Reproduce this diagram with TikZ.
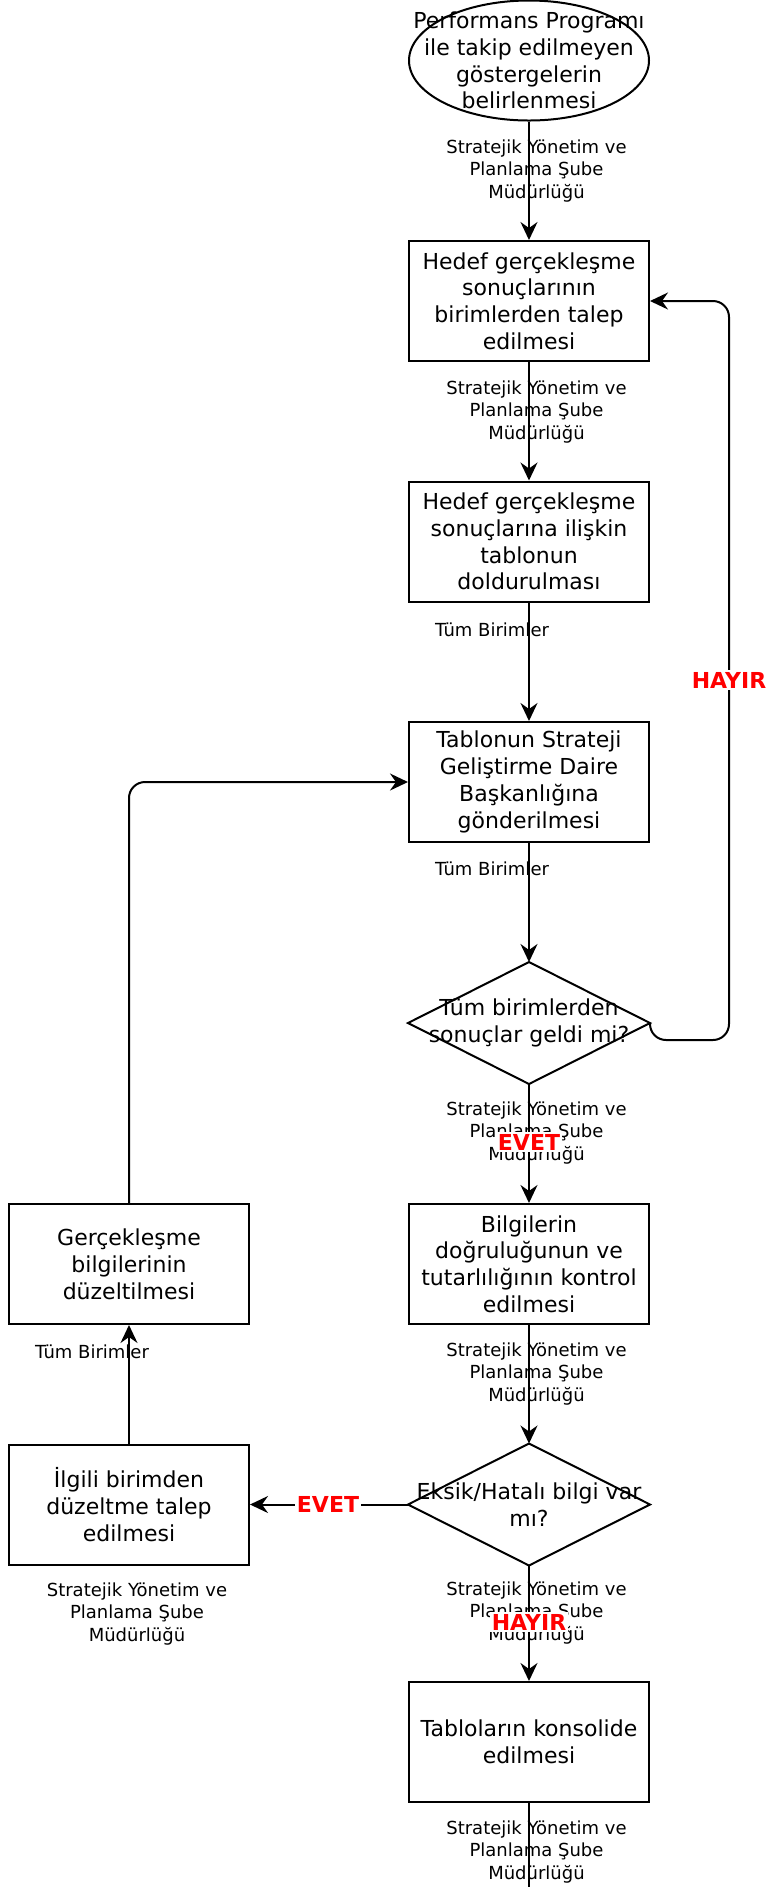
\documentclass[tikz,border=0pt]{standalone}
\usepackage{fontspec}
\setmainfont{DejaVu Sans}
\usetikzlibrary{arrows.meta}
\definecolor{answerred}{RGB}{255,0,0}

\begin{document}
\begin{tikzpicture}[x=0.5pt,y=0.5pt,yscale=-1,xscale=1,
  line width=1pt,
  >={Stealth[length=9pt,width=8.5pt,inset=3pt]},
  stepframe/.style={rectangle,minimum width=120pt,minimum height=60pt,inner sep=0pt,align=center,font=\fontsize{11}{13.4}\selectfont},
  process/.style={stepframe,draw},
  edgelabel/.style={align=center,inner sep=0.75pt,font=\fontsize{9}{11.2}\selectfont},
  answer/.style={fill=white,text=answerred,inner sep=1pt,font=\fontsize{11}{13}\selectfont\bfseries}]
\useasboundingbox (0,0) rectangle (768,1887);

%Shape: Ellipse [id:start]
\node [stepframe] (start) at (529,60.5) {Performans Programı\\ile takip edilmeyen\\göstergelerin\\belirlenmesi};
\draw (start.center) ellipse [x radius=120, y radius=60];
%Shape: Rectangle [id:request]
\node [process] (request) at (529,301) {Hedef gerçekleşme\\sonuçlarının\\birimlerden talep\\edilmesi};
%Shape: Rectangle [id:fill]
\node [process] (fill) at (529,541.5) {Hedef gerçekleşme\\sonuçlarına ilişkin\\tablonun\\doldurulması};
%Shape: Rectangle [id:send]
\node [process] (send) at (529,782) {Tablonun Strateji\\Geliştirme Daire\\Başkanlığına\\gönderilmesi};
%Shape: Diamond [id:check]
\node [stepframe] (check) at (529,1023) {Tüm birimlerden\\sonuçlar geldi mi?};
\draw (check.north) -- (check.east) -- (check.south) -- (check.west) -- cycle;
%Shape: Rectangle [id:verify]
\node [process] (verify) at (529,1264) {Bilgilerin\\doğruluğunun ve\\tutarlılığının kontrol\\edilmesi};
%Shape: Diamond [id:error]
\node [stepframe] (error) at (529,1504.5) {Eksik/Hatalı bilgi var\\mı?};
\draw (error.north) -- (error.east) -- (error.south) -- (error.west) -- cycle;
%Shape: Rectangle [id:merge]
\node [process] (merge) at (529,1742) {Tabloların konsolide\\edilmesi};
%Shape: Rectangle [id:fix]
\node [process] (fix) at (129,1264) {Gerçekleşme\\bilgilerinin\\düzeltilmesi};
%Shape: Rectangle [id:ask]
\node [process] (ask) at (129,1504.5) {İlgili birimden\\düzeltme talep\\edilmesi};

% Text Node
\node [edgelabel] (unit1) at (536.5,171) {Stratejik Yönetim ve\\Planlama Şube\\Müdürlüğü};
% Text Node
\node [edgelabel] (unit2) at (536.5,412) {Stratejik Yönetim ve\\Planlama Şube\\Müdürlüğü};
% Text Node
\node [edgelabel] (all1) at (492,630) {Tüm Birimler};
% Text Node
\node [edgelabel] (all2) at (492,869) {Tüm Birimler};
% Text Node
\node [edgelabel] (unit3) at (536.5,1133) {Stratejik Yönetim ve\\Planlama Şube\\Müdürlüğü};
% Text Node
\node [edgelabel] (unit4) at (536.5,1374) {Stratejik Yönetim ve\\Planlama Şube\\Müdürlüğü};
% Text Node
\node [edgelabel] (unit5) at (536.5,1613) {Stratejik Yönetim ve\\Planlama Şube\\Müdürlüğü};
% Text Node
\node [edgelabel] (unit6) at (536.5,1852) {Stratejik Yönetim ve\\Planlama Şube\\Müdürlüğü};
% Text Node
\node [edgelabel] (all3) at (92,1352) {Tüm Birimler};
% Text Node
\node [edgelabel] (unit7) at (137,1614) {Stratejik Yönetim ve\\Planlama Şube\\Müdürlüğü};

%Straight Lines
\coordinate (end) at (529,1887);
\coordinate (loopcorner) at (729,1040);
\draw [->] (start.south) -- (request.north);
\draw [->] (request) -- (fill);
\draw [->] (fill) -- (send);
\draw [->] (send) -- (check.north);
\draw [->] (check.south) -- (verify);
\draw [->] (verify) -- (error.north);
\draw [->] (error.south) -- (merge);
\draw (merge) -- (end);
\draw [->] (error.west) -- (ask.east);
\draw [->] (ask) -- (fix);
\draw [->,rounded corners=8pt] (fix.north) |- (send.west);
\draw [->,rounded corners=8pt] (check.east) |- (loopcorner) |- (request.east);

% Text Node
\node [answer] (yes1) at (529,1142) {EVET};
% Text Node
\node [answer] (yes2) at (328,1504.5) {EVET};
% Text Node
\node [answer] (no1) at (529,1622) {HAYIR};
% Text Node
\node [answer] (no2) at (729,680) {HAYIR};

\end{tikzpicture}
\end{document}
